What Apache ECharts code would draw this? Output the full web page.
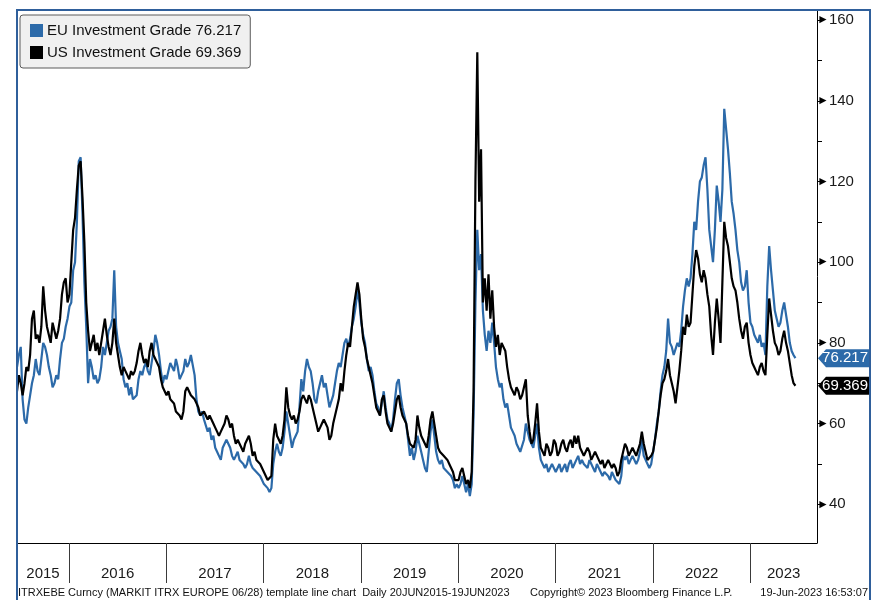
<!DOCTYPE html>
<html>
<head>
<meta charset="utf-8">
<script src="https://cdn.jsdelivr.net/npm/echarts@6/dist/echarts.min.js"></script>
<style>
  html, body { margin: 0; padding: 0; background: #fff; }
  #chart { width: 874px; height: 600px; }
</style>
</head>
<body>
<div id="chart"></div>
<script>
// iTraxx Europe Main (EU IG) vs CDX IG (US IG), weekly observations
const startDate = '2015-06-20';
const endDate = '2023-06-19';
const axisEnd = '2023-09-08';

const seriesNames = ['EU Investment Grade', 'US Investment Grade'];

const euIG = [
  74, 77, 79, 66, 61, 60, 64, 67, 70, 72, 76, 73, 72, 76, 80, 79, 77, 74, 72, 69,
  70, 72, 71, 76, 80, 81, 84, 86, 89, 90, 98, 100, 110, 125, 126, 112, 95, 84, 70, 76,
  74, 71, 72, 70, 71, 74, 79, 77, 80, 83, 84, 86, 98, 84, 80, 78, 76, 71, 69, 70,
  67, 69, 66, 66, 67, 71, 73, 72, 74, 75, 73, 72, 75, 78, 82, 80, 77, 73, 70, 72,
  71, 73, 75, 74, 73, 76, 74, 71, 72, 73, 76, 74, 75, 77, 77, 72, 66, 63, 62, 63,
  61, 61, 58, 59, 56, 57, 54, 53, 52, 51, 54, 55, 56, 55, 54, 52, 51, 52, 53, 51,
  51, 50, 49, 50, 52, 50, 49, 49, 48, 48, 47, 46, 45, 45, 44, 43, 44, 50, 53, 55,
  53, 52, 54, 58, 63, 60, 57, 54, 56, 57, 58, 64, 71, 68, 73, 76, 74, 73, 70, 66,
  65, 68, 70, 72, 69, 70, 67, 64, 64, 67, 70, 73, 75, 74, 77, 80, 81, 79, 81, 84,
  86, 89, 93, 90, 85, 82, 80, 76, 73, 74, 72, 68, 65, 64, 62, 65, 68, 64, 61, 60,
  58, 61, 66, 70, 71, 67, 64, 62, 60, 56, 52, 54, 51, 53, 57, 55, 53, 51, 49, 48,
  53, 58, 61, 57, 53, 51, 50, 51, 49, 49, 48, 48, 47, 46, 44, 45, 44, 45, 47, 45,
  43, 45, 42, 45, 62, 90, 108, 98, 102, 88, 82, 78, 83, 80, 85, 80, 74, 71, 69, 70,
  66, 64, 65, 62, 59, 58, 57, 55, 54, 53, 53, 56, 60, 58, 56, 55, 54, 57, 60, 54,
  51, 50, 49, 50, 48, 49, 50, 49, 48, 49, 50, 48, 49, 50, 48, 50, 51, 49, 50, 51,
  52, 50, 51, 50, 50, 49, 51, 50, 49, 48, 50, 49, 48, 47, 48, 48, 47, 46, 48, 47,
  46, 46, 45, 47, 52, 51, 52, 50, 51, 52, 52, 50, 51, 53, 56, 52, 51, 50, 49, 50,
  53, 56, 60, 63, 68, 72, 74, 78, 86, 80, 79, 77, 77, 80, 79, 83, 89, 93, 96, 94,
  96, 102, 110, 108, 115, 120, 121, 124, 126, 118, 108, 104, 100, 108, 119, 115, 110, 118, 138, 133,
  128, 122, 115, 112, 108, 103, 100, 95, 93, 94, 98, 90, 85, 84, 82, 81, 80, 82, 79, 80,
  77, 94, 104, 98, 93, 88, 86, 84, 85, 88, 90, 87, 84, 80, 78, 77, 76.217
];

const usIG = [
  68, 72, 70, 67, 70, 74, 73, 77, 86, 88, 81, 82, 80, 84, 94, 88, 84, 82, 80, 85,
  83, 81, 83, 86, 92, 95, 96, 90, 92, 100, 108, 111, 118, 124, 125, 116, 105, 90, 83, 78,
  80, 82, 78, 80, 77, 80, 83, 86, 82, 79, 77, 80, 86, 80, 77, 74, 72, 74, 73, 72,
  71, 73, 72, 73, 75, 78, 80, 77, 75, 76, 74, 78, 80, 77, 76, 75, 74, 71, 69, 69,
  67, 68, 66, 66, 65, 63, 63, 62, 61, 63, 68, 69, 69, 67, 67, 66, 65, 64, 62, 62,
  63, 62, 61, 62, 61, 60, 59, 58, 57, 58, 58, 60, 62, 61, 59, 60, 57, 55, 56, 55,
  54, 53, 55, 56, 57, 55, 52, 53, 51, 51, 50, 49, 48, 48, 46, 46, 47, 56, 60, 57,
  56, 55, 57, 61, 69, 64, 62, 61, 62, 60, 61, 63, 66, 67, 66, 65, 67, 66, 64, 62,
  60, 58, 59, 60, 61, 60, 59, 56, 57, 60, 62, 64, 66, 70, 68, 73, 77, 80, 79, 84,
  89, 92, 95, 92, 86, 81, 79, 76, 74, 72, 70, 67, 64, 63, 62, 66, 67, 63, 60, 59,
  58, 60, 63, 66, 67, 64, 62, 61, 60, 57, 55, 55, 54, 56, 62, 59, 57, 56, 55, 54,
  57, 61, 63, 60, 57, 54, 53, 53, 52, 52, 51, 50, 49, 48, 46, 46, 46, 48, 49, 47,
  45, 46, 44, 48, 68, 120, 152, 115, 128, 90, 96, 88, 97, 86, 93, 84, 79, 82, 77, 80,
  80, 78, 74, 71, 69, 68, 67, 69, 68, 66, 67, 69, 71, 62, 58, 55, 56, 60, 65, 58,
  54, 53, 52, 55, 54, 52, 53, 56, 55, 52, 53, 55, 56, 54, 53, 55, 56, 54, 57, 55,
  57, 54, 53, 52, 53, 54, 53, 51, 52, 53, 53, 51, 50, 51, 49, 50, 51, 50, 49, 50,
  49, 47, 48, 51, 53, 55, 54, 52, 53, 54, 53, 52, 52, 55, 58, 55, 53, 51, 51, 52,
  53, 56, 59, 63, 67, 70, 71, 73, 76, 72, 70, 68, 65, 69, 73, 78, 84, 82, 87, 84,
  85, 92, 99, 103, 101, 97, 95, 98, 96, 92, 89, 82, 77, 85, 91, 86, 80, 95, 110, 106,
  104, 100, 96, 94, 93, 90, 86, 83, 81, 84, 85, 80, 77, 75, 74, 73, 72, 74, 75, 73,
  72, 82, 91, 87, 83, 80, 79, 77, 78, 81, 83, 80, 78, 75, 72, 70, 69.369
];

const yearLabels = ['2015', '2016', '2017', '2018', '2019', '2020', '2021', '2022', '2023'];
const yTickLabels = [40, 60, 80, 100, 120, 140, 160];
const yMinorTicks = [40, 50, 60, 70, 80, 90, 100, 110, 120, 130, 140, 150, 160];

const footerLeft = 'ITRXEBE Curncy (MARKIT ITRX EUROPE 06/28) template line chart  Daily 20JUN2015-19JUN2023';
const footerMid = 'Copyright\u00a9 2023 Bloomberg Finance L.P.';
const footerRight = '19-Jun-2023 16:53:07';

const EU_COLOR = '#2c6aa9';
const US_COLOR = '#000000';
const FRAME_COLOR = '#2f5f9b';
const FONT = 'Liberation Sans';

function msOf(d) { return Date.parse(d + 'T00:00:00Z'); }
function decYearMs(t) {
  const y = new Date(t).getUTCFullYear();
  const a = Date.UTC(y, 0, 1), b = Date.UTC(y + 1, 0, 1);
  return y + (t - a) / (b - a);
}

const t0 = msOf(startDate), t1 = msOf(endDate);
function toPairs(vals) {
  const n = vals.length;
  return vals.map((v, i) => [decYearMs(t0 + (t1 - t0) * i / (n - 1)), v]);
}

const xMin = decYearMs(t0);
const xMax = decYearMs(msOf(axisEnd));
const yearTicks = yearLabels.slice(1).map(Number);
const yearLabelPos = yearLabels.map(s => {
  const y = Number(s);
  const a = Math.max(y, xMin), b = Math.min(y + 1, xMax);
  return (a + b) / 2;
});

const euLast = euIG[euIG.length - 1];
const usLast = usIG[usIG.length - 1];
const lastValues = { [seriesNames[0]]: euLast, [seriesNames[1]]: usLast };

const chart = echarts.init(document.getElementById('chart'));

chart.setOption({
  animation: false,
  backgroundColor: '#ffffff',
  grid: { left: 17, top: 10, right: 57, bottom: 57, containLabel: false },
  legend: {
    left: 20, top: 15,
    orient: 'vertical',
    backgroundColor: '#f0f0f0',
    borderColor: '#5a5a5a', borderWidth: 1, borderRadius: 3,
    padding: [8, 9, 8, 10],
    itemGap: 7, itemWidth: 13, itemHeight: 13,
    icon: 'rect',
    data: seriesNames,
    formatter: name => name + ' ' + lastValues[name].toFixed(3),
    textStyle: { fontFamily: FONT, fontSize: 15, color: '#111', padding: [0, 0, 0, -1] },
    selectedMode: false
  },
  xAxis: {
    type: 'value',
    min: xMin, max: xMax,
    splitLine: { show: false },
    axisLine: { show: true, lineStyle: { color: '#000', width: 1 } },
    axisTick: {
      show: true, customValues: yearTicks, length: 40,
      lineStyle: { color: '#3a3a3a', width: 1 }
    },
    axisLabel: {
      show: true, customValues: yearLabelPos, margin: 23,
      formatter: v => yearLabels[Math.floor(v) - Number(yearLabels[0])],
      fontFamily: FONT, fontSize: 15, color: '#1a1a1a'
    }
  },
  yAxis: {
    type: 'value', position: 'right',
    min: 30.4, max: 162.5,
    splitLine: { show: false },
    axisLine: { show: true, lineStyle: { color: '#000', width: 1 } },
    axisTick: {
      show: true, inside: false, length: 5, customValues: yMinorTicks,
      lineStyle: { color: '#000', width: 1 }
    },
    axisLabel: {
      show: true, customValues: yTickLabels, margin: 0,
      formatter: v => '{t|\u25BA}{v|' + v + '}',
      rich: {
        t: { fontFamily: FONT, fontSize: 12, color: '#000', padding: [0, 0, 0, 0] },
        v: { fontFamily: FONT, fontSize: 15, color: '#1a1a1a' }
      }
    }
  },
  series: [
    {
      name: seriesNames[0], type: 'line', data: toPairs(euIG),
      showSymbol: false, symbol: 'none', color: EU_COLOR,
      lineStyle: { color: EU_COLOR, width: 2.2 }, z: 2
    },
    {
      name: seriesNames[1], type: 'line', data: toPairs(usIG),
      showSymbol: false, symbol: 'none', color: US_COLOR,
      lineStyle: { color: US_COLOR, width: 2.2 }, z: 3
    }
  ]
});

// value tags on the right axis and the surrounding frame / footer
function tag(value, fill) {
  const y = chart.convertToPixel({ yAxisIndex: 0 }, value);
  const tip = 818, body = 826, right = 870, h = 9;
  return {
    type: 'group', z: 50,
    children: [
      {
        type: 'polygon',
        shape: { points: [[tip, y], [body, y - h], [right, y - h], [right, y + h], [body, y + h]] },
        style: { fill: fill }
      },
      {
        type: 'text', x: right - 2, y: y,
        style: { text: value.toFixed(3), fill: '#fff', font: '15px "' + FONT + '"', align: 'right', verticalAlign: 'middle' }
      }
    ]
  };
}

chart.setOption({
  graphic: [
    {
      type: 'polyline', z: 40, silent: true,
      shape: { points: [[17, 604], [17, 10], [870, 10], [870, 604]] },
      style: { stroke: FRAME_COLOR, lineWidth: 2, fill: null }
    },
    tag(euLast, EU_COLOR),
    tag(usLast, '#000'),
    {
      type: 'text', x: 18, y: 593, z: 40,
      style: { text: footerLeft, fill: '#111', font: '11px "' + FONT + '"', verticalAlign: 'middle' }
    },
    {
      type: 'text', x: 530, y: 593, z: 40,
      style: { text: footerMid, fill: '#111', font: '11px "' + FONT + '"', verticalAlign: 'middle' }
    },
    {
      type: 'text', x: 868, y: 593, z: 40,
      style: { text: footerRight, fill: '#111', font: '11px "' + FONT + '"', align: 'right', verticalAlign: 'middle' }
    }
  ]
});
</script>
</body>
</html>
